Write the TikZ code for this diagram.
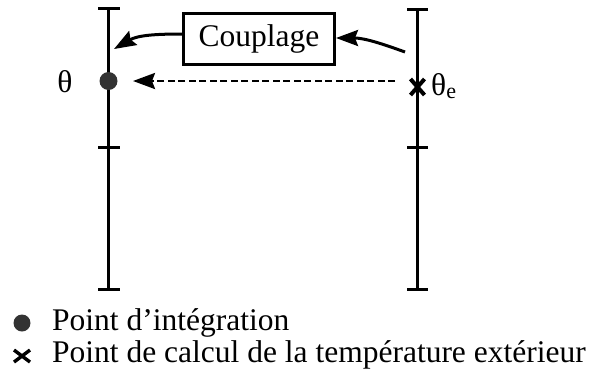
\documentclass[tikz,border=0pt]{standalone}
\usepackage{fontspec}
\setmainfont{Liberation Serif}
\usetikzlibrary{arrows.meta,calc}
\begin{document}
\begin{tikzpicture}[x=1pt,y=-1pt,
  wall/.style={line width=3.2pt},
  tick/.style={line width=3pt},
  bigtip/.style={-{Stealth[length=22pt,width=16pt,inset=3pt]}},
  txt/.style={font=\fontsize{31.5}{36}\selectfont, inner sep=0pt},
  crossmark/.style={line width=4pt},
]
\useasboundingbox (0,0) rectangle (595,373);
% walls
\draw[wall] (108.5,8) -- (108.5,289);
\draw[wall] (417.5,9) -- (417.5,289);
\foreach \y in {8,147,289} \draw[tick] (98,\y) -- (120,\y);
\foreach \y in {9,147,289} \draw[tick] (407,\y) -- (428,\y);
% points
\node[circle, fill=black!80, minimum size=18pt, inner sep=0pt] (dot) at (108.5,81) {};
\coordinate (cross) at (417.5,87);
\draw[crossmark] ($(cross)+(-7,-8)$) -- ($(cross)+(7,8)$);
\draw[crossmark] ($(cross)+(-7,8)$) -- ($(cross)+(7,-8)$);
\node[txt] (theta) at (65,82) {θ};
\node[txt, anchor=west] (thetae) at (431,86) {θ\textsubscript{e}};
% coupling box
\node[draw, line width=3pt, txt, minimum width=151pt, minimum height=51pt] (couple) at (259,39) {Couplage};
% arrows
\coordinate (tipL) at (114,49);
\coordinate (srcR) at (405,52);
\coordinate (dashS) at (395,81);
\coordinate (dashE) at (133,81);
\draw[line width=3pt, bigtip] (couple.west |- 0,34) to[out=180,in=30] (tipL);
\draw[line width=3pt, bigtip] (srcR) to[out=160,in=0] (couple.east |- 0,38);
\draw[line width=2.6pt, dash pattern=on 7pt off 3.5pt, bigtip] (dashS) -- (dashE);
% legend
\node[circle, fill=black!80, minimum size=17pt, inner sep=0pt] (ldot) at (22,323) {};
\coordinate (lcross) at (22,356);
\draw[line width=3.4pt] ($(lcross)+(-8,-6)$) -- ($(lcross)+(8,6)$);
\draw[line width=3.4pt] ($(lcross)+(-8,6)$) -- ($(lcross)+(8,-6)$);
\node[txt, anchor=west] (l1) at (52,323) {Point d’intégration};
\node[txt, anchor=west] (l2) at (52,355) {Point de calcul de la température extérieur};
\end{tikzpicture}
\end{document}
